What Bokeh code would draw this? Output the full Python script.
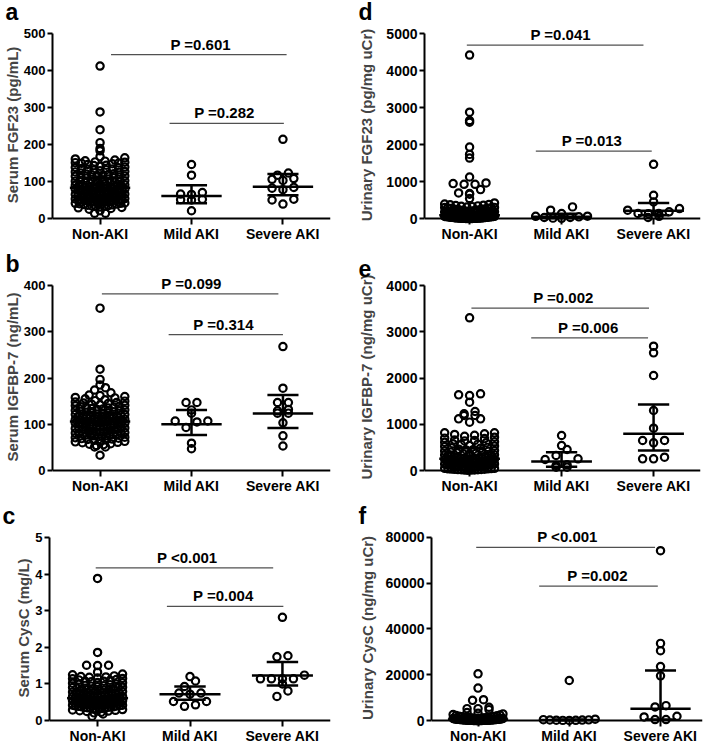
import numpy as np
from bokeh.plotting import figure
from bokeh.layouts import column, row
from bokeh.models import Range1d, FixedTicker, Label, NumeralTickFormatter, Span
from bokeh.embed import file_html
from bokeh.resources import INLINE

FONT = "Liberation Sans"
groups = ["Non-AKI", "Mild AKI", "Severe AKI"]

# ---------------- a: Serum FGF23 (pg/mL)
a_non = [412, 288, 240, 205, 189, 183, 167, 164, 161, 158, 156, 153, 151, 150, 148, 146, 143, 141,
         139, 137, 135, 133, 131, 129, 127, 125, 123, 121, 119, 118, 116, 114, 112, 111, 109, 107,
         105, 104, 102, 100, 99, 97, 96, 95, 93, 92, 90, 89, 88, 87, 85, 84, 83, 82, 81, 80, 79, 78,
         77, 76, 75, 74, 73, 72, 71, 70, 69, 68, 67, 66, 65, 64, 63, 62, 61, 60, 59, 58, 57, 56, 55,
         54, 52, 51, 50, 49, 48, 47, 46, 45, 44, 43, 42, 41, 40, 39, 37, 36, 34, 33, 31, 29, 27, 25,
         21, 14, 14, 155, 149, 144, 138, 132, 126, 120, 115, 110, 106, 101, 98, 94, 91, 88, 86, 84,
         81, 79, 77, 75, 73, 71, 69, 67, 65, 63, 61, 59, 57, 55, 53, 51, 49, 47, 45, 43, 41, 38, 35,
         32, 30, 152, 134, 117]
a_mild = [146, 117, 70, 66, 65, 52, 51, 50, 21]
a_severe = [214, 123, 117, 108, 106, 103, 84, 82, 78, 52, 50, 39]
a_median = [83, 61, 86]
a_q1 = [55, 41, 63]
a_q3 = [110, 90, 120]
a_pvals = ["P =0.601", "P =0.282"]

# ---------------- b: Serum IGFBP-7 (ng/mL)
b_non = [351, 219, 197, 185, 179, 174, 168, 163, 160, 158, 155, 153, 150, 148, 146, 145, 143, 141,
         140, 138, 137, 135, 134, 132, 131, 130, 128, 127, 126, 124, 123, 122, 121, 120, 119, 118,
         117, 116, 115, 114, 113, 112, 111, 110, 109, 108, 107, 106, 106, 105, 104, 103, 102, 101,
         100, 99, 98, 97, 96, 95, 94, 93, 92, 91, 90, 89, 88, 87, 86, 85, 84, 83, 82, 81, 80, 79,
         78, 77, 76, 75, 74, 72, 70, 68, 67, 66, 64, 62, 60, 57, 54, 51, 51, 33, 162, 157, 151, 147,
         142, 139, 136, 133, 129, 125, 121, 118, 115, 112, 109, 107, 104, 102, 99, 97, 95, 93, 91,
         89, 87, 85, 83, 81, 79, 77, 75, 73, 71, 69, 65, 63, 61, 58, 56]
b_mild = [147, 147, 131, 124, 107, 107, 105, 93, 59, 47]
b_severe = [268, 178, 147, 147, 132, 129, 124, 124, 103, 75, 53]
b_median = [106, 100, 123]
b_q1 = [88, 77, 92]
b_q3 = [125, 131, 163]
b_pvals = ["P =0.099", "P =0.314"]

# ---------------- c: Serum CysC (mg/L)
c_non = [3.88, 1.86, 1.51, 1.50, 1.51, 1.32, 1.27, 1.22, 1.20, 1.18, 1.16, 1.14, 1.12, 1.10, 1.08,
         1.06, 1.04, 1.02, 1.00, 0.98, 0.96, 0.94, 0.92, 0.90, 0.89, 0.87, 0.85, 0.84, 0.82, 0.81,
         0.79, 0.78, 0.76, 0.75, 0.74, 0.72, 0.71, 0.70, 0.69, 0.68, 0.67, 0.66, 0.65, 0.64, 0.63,
         0.62, 0.61, 0.61, 0.60, 0.59, 0.58, 0.57, 0.56, 0.55, 0.54, 0.53, 0.52, 0.51, 0.50, 0.49,
         0.48, 0.47, 0.46, 0.45, 0.44, 0.43, 0.42, 0.41, 0.40, 0.39, 0.38, 0.37, 0.36, 0.35, 0.34,
         0.33, 0.32, 0.31, 0.30, 0.28, 0.26, 0.23, 0.21, 0.18, 0.12, 1.25, 1.19, 1.15, 1.11, 1.07,
         1.03, 0.99, 0.95, 0.91, 0.88, 0.86, 0.83, 0.80, 0.77, 0.73, 0.70, 0.68, 0.66, 0.64, 0.62,
         0.60, 0.58, 0.56, 0.54, 0.52, 0.50, 0.48, 0.46, 0.44, 0.42, 0.40, 0.38, 0.36, 0.34, 0.32,
         0.29, 0.27, 0.25]
c_mild = [1.20, 1.08, 0.93, 0.75, 0.75, 0.72, 0.52, 0.52, 0.43, 0.39]
c_severe = [2.82, 1.77, 1.74, 1.24, 1.14, 1.14, 1.14, 1.14, 1.00, 0.81, 0.66]
c_median = [0.61, 0.72, 1.23]
c_q1 = [0.42, 0.57, 0.96]
c_q3 = [0.85, 0.93, 1.60]
c_pvals = ["P <0.001", "P =0.004"]

# ---------------- d: Urinary FGF23 (pg/mg uCr)
d_non = [4417, 2873, 2648, 2603, 1930, 1733, 1634, 1122, 960, 943, 925, 925, 781, 691, 673, 655,
         539, 420, 390, 370, 350, 340, 330, 310, 300, 290, 280, 270, 260, 250, 240, 230, 220, 210,
         200, 190, 180, 170, 160, 150, 145, 140, 135, 130, 125, 120, 115, 110, 105, 100, 96, 93,
         90, 88, 85, 82, 80, 77, 74, 71, 68, 65, 62, 60, 57, 54, 51, 48, 45, 42, 40, 37, 34, 31,
         28, 25, 22, 20, 18, 16, 14, 12, 10, 8, 6, 5, 4, 3, 2, 1, 380, 360, 320, 295, 275, 255,
         235, 215, 195, 175, 155, 138, 122, 108, 98, 86, 76, 66, 56, 46, 36, 26, 19, 15, 11, 7, 3,
         2, 1, 0.5, 160, 140, 118, 92, 72, 52, 33, 17, 9, 4]
d_mild = [314, 224, 135, 63, 60, 45, 27, 27, 10, 5]
d_severe = [1463, 628, 449, 269, 224, 180, 135, 135, 130, 60, 27]
d_median = [90, 45, 210]
d_q1 = [25, 15, 90]
d_q3 = [280, 130, 420]
d_pvals = ["P =0.041", "P =0.013"]

# ---------------- e: Urinary IGFBP-7 (ng/mg uCr)
e_non = [3301, 1658, 1636, 1622, 1477, 1276, 1225, 1189, 1189, 1117, 1117, 1045, 814, 814, 793,
         760, 720, 690, 650, 640, 620, 600, 580, 560, 540, 520, 500, 480, 460, 445, 430, 415, 400,
         385, 370, 355, 340, 330, 320, 310, 300, 290, 280, 270, 262, 255, 250, 245, 240, 232, 225,
         218, 210, 202, 195, 188, 180, 172, 165, 158, 150, 143, 136, 129, 122, 115, 108, 101, 95,
         88, 82, 76, 70, 64, 58, 52, 47, 42, 37, 32, 28, 24, 20, 16, 12, 8, 780, 740, 700, 660,
         610, 570, 530, 490, 450, 420, 390, 360, 335, 315, 295, 275, 258, 242, 228, 212, 198, 184,
         168, 152, 138, 124, 110, 96, 84, 72, 60, 48, 36, 26, 18, 10, 5]
e_mild = [757, 540, 454, 324, 252, 238, 123, 108, 72, 72]
e_severe = [2688, 2544, 2054, 1297, 915, 649, 649, 598, 288, 252, 252]
e_median = [252, 195, 793]
e_q1 = [120, 80, 432]
e_q3 = [480, 396, 1427]
e_pvals = ["P =0.002", "P =0.006"]

# ---------------- f: Urinary CysC (ng/mg uCr)
f_non = [20398, 14177, 9114, 8825, 5787, 5208, 5208, 4774, 3500, 2900, 2400, 2100, 1900, 1700,
         1500, 1400, 1300, 1200, 1100, 1000, 950, 900, 850, 800, 760, 720, 680, 640, 600, 570,
         540, 510, 480, 450, 430, 410, 390, 370, 350, 330, 310, 290, 270, 250, 230, 210, 190, 170,
         150, 130, 115, 100, 90, 80, 70, 60, 50, 40, 30, 20, 10, 2600, 1800, 1600, 1250, 1050, 980,
         870, 780, 700, 620, 560, 500, 460, 420, 380, 340, 300, 260, 220, 180, 140, 110, 85, 65,
         45, 25, 15, 5, 3200, 2200]
f_mild = [17505, 600, 400, 300, 250, 200, 150, 100, 80, 50]
f_severe = [74213, 33707, 30524, 23580, 19530, 6510, 5931, 1880, 1591, 434, 434]
f_median = [434, 250, 5208]
f_q1 = [100, 100, 500]
f_q3 = [1200, 450, 21845]
f_pvals = ["P <0.001", "P =0.002"]

# significance bar placement (data units)
SIG = {
    "a": dict(y=[443, 257], x0=[0.12, 0.76], x1=[2.04, 2.01], tx=[1.10, 1.36]),
    "b": dict(y=[382, 294], x0=[0.02, 0.75], x1=[1.95, 2.00], tx=[1.00, 1.35]),
    "c": dict(y=[4.17, 3.12], x0=[-0.02, 0.75], x1=[1.90, 2.01], tx=[0.97, 1.36]),
    "d": dict(y=[4686, 1822], x0=[-0.03, 0.72], x1=[1.89, 1.98], tx=[0.99, 1.33]),
    "e": dict(y=[3510, 2868], x0=[0.02, 0.67], x1=[1.95, 1.94], tx=[1.02, 1.29]),
    "f": dict(y=[75660, 58734], x0=[-0.02, 0.67], x1=[1.94, 1.97], tx=[0.98, 1.31]),
}

HP = 185        # pixels for 0..ymax
PAD_TOP = 8
PAD_LOW = 6
TOP = 25
FRAME_H = HP + PAD_TOP + PAD_LOW


def swarm_offsets(vals, px_per_unit, px_per_cat, step=11.0):
    v = np.asarray(vals, float)
    dense = len(v) > 40
    bin_px = 4.5 if dense else 9.0
    half = 25.0 if dense else 26.0
    bins = np.floor(v * px_per_unit / bin_px + 0.5).astype(int)
    off = np.zeros(len(v))
    for key in np.unique(bins):
        idx = np.where(bins == key)[0]
        idx = idx[np.argsort(v[idx], kind="stable")]
        n = len(idx)
        if n == 1:
            continue
        sp = min(step, 2 * half / (n - 1))
        slots = (np.arange(n) - (n - 1) / 2) * sp
        order = np.argsort(np.abs(slots) + 1e-6 * slots, kind="stable")
        off[idx] = slots[order]
    return off / px_per_cat


def make_panel(letter, ylabel, ymax, ystep, series, med, q1, q3, pvals, sig,
               width, height, xr, border_left, border_right, letter_x, label_standoff,
               tick_size):
    frame_w = width - border_left - border_right
    ppc = frame_w / (xr[1] - xr[0])
    ppu = HP / ymax
    p = figure(width=width, height=height,
               x_range=Range1d(*xr),
               y_range=Range1d(-PAD_LOW / ppu, ymax + PAD_TOP / ppu),
               output_backend="svg", toolbar_location=None,
               min_border_left=border_left, min_border_right=border_right,
               min_border_top=TOP, min_border_bottom=height - TOP - FRAME_H)
    p.grid.visible = False
    p.outline_line_color = None
    p.background_fill_color = "white"

    # panel letter as title
    p.title.text = letter
    p.title.text_font = FONT
    p.title.text_font_size = "23px"
    p.title.text_font_style = "bold"
    p.title.text_color = "black"
    p.title.align = "left"
    p.title.vertical_align = "top"
    p.title.offset = -(border_left - letter_x)
    p.title.standoff = -3

    # axes
    p.xaxis.ticker = FixedTicker(ticks=[0, 1, 2])
    p.xaxis.major_label_overrides = {i: g for i, g in enumerate(groups)}
    p.yaxis.ticker = FixedTicker(ticks=list(np.arange(0, ymax + ystep * 0.5, ystep)))
    p.yaxis.formatter = NumeralTickFormatter(format="0")
    p.yaxis.bounds = (0, ymax)
    p.yaxis.axis_label = ylabel
    p.yaxis.axis_label_text_font = FONT
    p.yaxis.axis_label_text_font_size = "15px"
    p.yaxis.axis_label_text_font_style = "bold"
    p.yaxis.axis_label_standoff = label_standoff
    for ax in (p.xaxis, p.yaxis):
        ax.axis_line_width = 2
        ax.axis_line_color = "black"
        ax.major_tick_line_width = 2
        ax.major_tick_line_color = "black"
        ax.minor_tick_line_color = None
        ax.major_label_text_font = FONT
        ax.major_label_text_font_style = "bold"
        ax.major_label_text_color = "black"
    p.yaxis.major_tick_out = 5
    p.yaxis.major_tick_in = 0
    p.yaxis.major_label_standoff = 2
    p.yaxis.major_label_text_font_size = tick_size
    # x axis: ticks reach up to the zero line, which is drawn as a span
    p.xaxis.axis_line_color = None
    p.xaxis.major_tick_in = PAD_LOW
    p.xaxis.major_tick_out = 0
    p.xaxis.major_label_standoff = 1
    p.xaxis.major_label_text_font_size = "14px"
    p.add_layout(Span(location=0, dimension="width", line_color="black", line_width=2))

    # points
    for i, vals in enumerate(series):
        off = swarm_offsets(vals, ppu, ppc)
        p.scatter(i + off, vals, marker="circle", size=7.3, line_width=2.2,
                  fill_color=None, line_color="black")

    # median and interquartile range
    xs = np.arange(3)
    p.segment(xs - 0.33, med, xs + 0.33, med, line_width=2.5, line_color="black")
    p.segment(xs - 0.17, q1, xs + 0.17, q1, line_width=2.5, line_color="black")
    p.segment(xs - 0.17, q3, xs + 0.17, q3, line_width=2.5, line_color="black")
    p.segment(xs, q1, xs, q3, line_width=2.5, line_color="black")

    # significance bars
    p.segment(sig["x0"], sig["y"], sig["x1"], sig["y"], line_width=1.3, line_color="#505050")
    for t, tx, ty in zip(pvals, sig["tx"], sig["y"]):
        p.add_layout(Label(x=tx, y=ty + 10.5 / ppu, text=t, text_align="center",
                           text_baseline="middle", text_font=FONT,
                           text_font_size="15px", text_font_style="bold", text_color="black"))
    return p


LW, RW = 355, 354
H = [252, 252, 242]
XL = (-0.52, 2.52)
XR = (-0.49, 2.51)
XF = (-0.51, 2.46)

pa = make_panel("a", "Serum FGF23 (pg/mL)", 500, 100, [a_non, a_mild, a_severe],
                a_median, a_q1, a_q3, a_pvals, SIG["a"], LW, H[0], XL, 49, 25, 2, 0, "13px")
pb = make_panel("b", "Serum IGFBP-7 (ng/mL)", 400, 100, [b_non, b_mild, b_severe],
                b_median, b_q1, b_q3, b_pvals, SIG["b"], LW, H[1], XL, 49, 25, 2, 0, "13px")
pc = make_panel("c", "Serum CysC (mg/L)", 5, 1, [c_non, c_mild, c_severe],
                c_median, c_q1, c_q3, c_pvals, SIG["c"], LW, H[2], XL, 49, 25, 2, 0, "13px")
pd_ = make_panel("d", "Urinary FGF23 (pg/mg uCr)", 5000, 1000, [d_non, d_mild, d_severe],
                 d_median, d_q1, d_q3, d_pvals, SIG["d"], RW, H[0], XR, 68, 9, 2, 8, "14px")
pe = make_panel("e", "Urinary IGFBP-7 (ng/mg uCr)", 4000, 1000, [e_non, e_mild, e_severe],
                e_median, e_q1, e_q3, e_pvals, SIG["e"], RW, H[1], XR, 68, 9, 2, 8, "14px")
pf = make_panel("f", "Urinary CysC (ng/mg uCr)", 80000, 20000, [f_non, f_mild, f_severe],
                f_median, f_q1, f_q3, f_pvals, SIG["f"], RW, H[2], XF, 75, 7, 2, 7, "14px")

layout = column(row(pa, pd_), row(pb, pe), row(pc, pf))
open("out.html", "w").write(file_html(layout, INLINE))
